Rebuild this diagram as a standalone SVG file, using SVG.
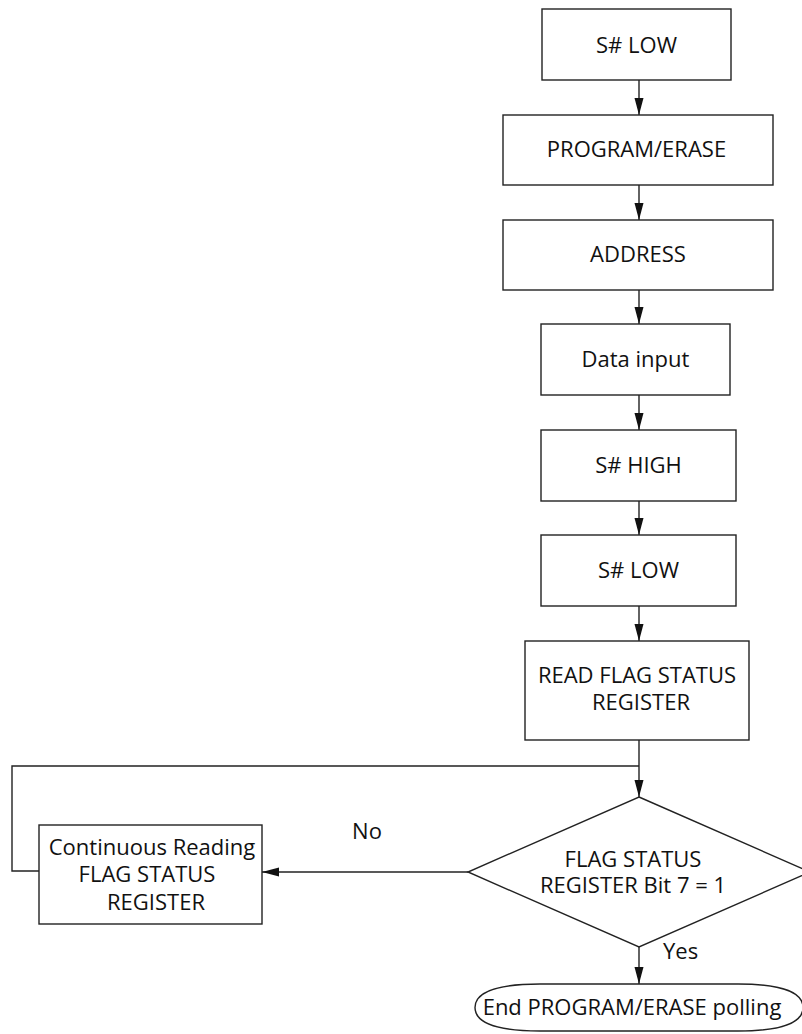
<svg xmlns="http://www.w3.org/2000/svg" width="802" height="1034" viewBox="0 0 802 1034">
  <style>
    .shape { fill: #ffffff; stroke: #222222; stroke-width: 1.4; }
    .wire { fill: none; stroke: #222222; stroke-width: 1.4; }
    text { font-family: "Open Sans", "Noto Sans", "Liberation Sans", sans-serif; font-size: 22px; fill: #111111; }
    .c { text-anchor: middle; }
  </style>
  <defs>
    <marker id="arrow" viewBox="0 0 17 10" refX="17" refY="5" markerWidth="17" markerHeight="10" markerUnits="userSpaceOnUse" orient="auto">
      <path d="M0,0.5 L17,5 L0,9.5 Z" fill="#111111"/>
    </marker>
  </defs>

  <rect width="802" height="1034" fill="#ffffff"/>

  <!-- connectors -->
  <g id="connectors">
    <line class="wire" x1="639" y1="80" x2="639" y2="115" marker-end="url(#arrow)"/>
    <line class="wire" x1="639" y1="185" x2="639" y2="220" marker-end="url(#arrow)"/>
    <line class="wire" x1="639" y1="290" x2="639" y2="324" marker-end="url(#arrow)"/>
    <line class="wire" x1="639" y1="395" x2="639" y2="430" marker-end="url(#arrow)"/>
    <line class="wire" x1="639" y1="501" x2="639" y2="535" marker-end="url(#arrow)"/>
    <line class="wire" x1="639" y1="606" x2="639" y2="641" marker-end="url(#arrow)"/>
    <line class="wire" x1="639" y1="740" x2="639" y2="797" marker-end="url(#arrow)"/>
    <polyline class="wire" points="639,766 12,766 12,871 39,871"/>
    <line class="wire" x1="468" y1="872" x2="262" y2="872" marker-end="url(#arrow)"/>
    <line class="wire" x1="639" y1="947" x2="639" y2="984" marker-end="url(#arrow)"/>
    <text x="367" y="839" class="c">No</text>
    <text x="663" y="959">Yes</text>
  </g>

  <g id="s-low-1">
    <rect class="shape" x="542" y="9" width="189" height="71"/>
    <text x="636.5" y="53" class="c">S# LOW</text>
  </g>

  <g id="program-erase">
    <rect class="shape" x="503" y="115" width="270" height="70"/>
    <text x="636.5" y="157" class="c">PROGRAM/ERASE</text>
  </g>

  <g id="address">
    <rect class="shape" x="503" y="220" width="270" height="70"/>
    <text x="638" y="262" class="c">ADDRESS</text>
  </g>

  <g id="data-input">
    <rect class="shape" x="541" y="324" width="189" height="71"/>
    <text x="635.5" y="367" class="c">Data input</text>
  </g>

  <g id="s-high">
    <rect class="shape" x="541" y="430" width="195" height="71"/>
    <text x="638.5" y="473" class="c">S# HIGH</text>
  </g>

  <g id="s-low-2">
    <rect class="shape" x="541" y="535" width="195" height="71"/>
    <text x="638.5" y="578" class="c">S# LOW</text>
  </g>

  <g id="read-flag-status">
    <rect class="shape" x="525" y="641" width="224" height="99"/>
    <text x="637" y="683" class="c">READ FLAG STATUS</text>
    <text x="641" y="710" class="c">REGISTER</text>
  </g>

  <g id="flag-check">
    <polygon class="shape" points="639,797 810,872 639,947 468,872"/>
    <text x="633" y="867" class="c">FLAG STATUS</text>
    <text x="633" y="893" class="c">REGISTER Bit 7 = 1</text>
  </g>

  <g id="continuous-reading">
    <rect class="shape" x="39" y="825" width="223" height="99"/>
    <text x="152" y="855" class="c">Continuous Reading</text>
    <text x="147" y="882" class="c">FLAG STATUS</text>
    <text x="156" y="910" class="c">REGISTER</text>
  </g>

  <g id="end-polling">
    <path class="shape" d="M540,984 H738 C790,984 803,996 803,1007.5 C803,1019 790,1031 738,1031 H540 C488,1031 475,1019 475,1007.5 C475,996 488,984 540,984 Z"/>
    <text x="632" y="1015" class="c">End PROGRAM/ERASE polling</text>
  </g>
</svg>
